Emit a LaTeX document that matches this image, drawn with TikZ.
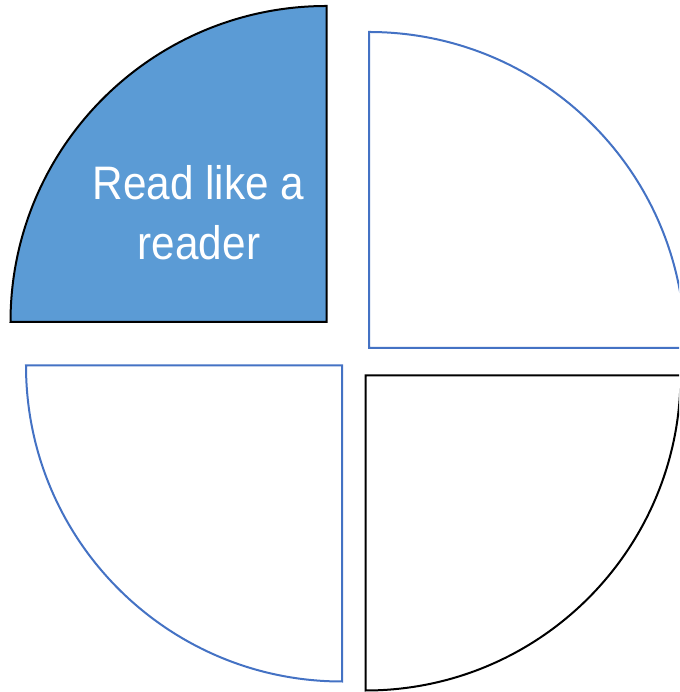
\documentclass[tikz,border=0pt]{standalone}
\usepackage{fontspec}
\setmainfont{Liberation Sans}
\newfontfamily\labelfont{Liberation Sans}[FakeStretch=0.9]
\definecolor{fillblue}{HTML}{5B9BD5}
\definecolor{lineblue}{HTML}{4472C4}
\begin{document}
\begin{tikzpicture}[x=1pt,y=1pt,
  quarter/.style={line width=2pt,line join=miter},
  bluequarter/.style={quarter,draw=lineblue,fill=white},
  blackquarter/.style={quarter,draw=black},
  label/.style={text=white,font=\labelfont\fontsize{47}{60}\selectfont,anchor=base,inner sep=0pt}]
\useasboundingbox (0,0) rectangle (679,692);
\clip (0,0) rectangle (679,692);
% top-left, filled
\draw[blackquarter,fill=fillblue] (326.5,370) -- ++(0,316) arc[start angle=90,end angle=180,radius=316] -- cycle;
% top-right
\draw[bluequarter] (369,344) -- ++(316,0) arc[start angle=0,end angle=90,radius=316] -- cycle;
% bottom-left
\draw[bluequarter] (342,326.5) -- ++(0,-316) arc[start angle=270,end angle=180,radius=316] -- cycle;
% bottom-right
\draw[blackquarter,fill=white] (365.5,316.5) -- ++(315,0) arc[start angle=0,end angle=-90,radius=315] -- cycle;
\node[label] (t1) at (198.5,492) {Read like a};
\node[label] (t2) at (199,432.5) {reader};
\end{tikzpicture}
\end{document}
